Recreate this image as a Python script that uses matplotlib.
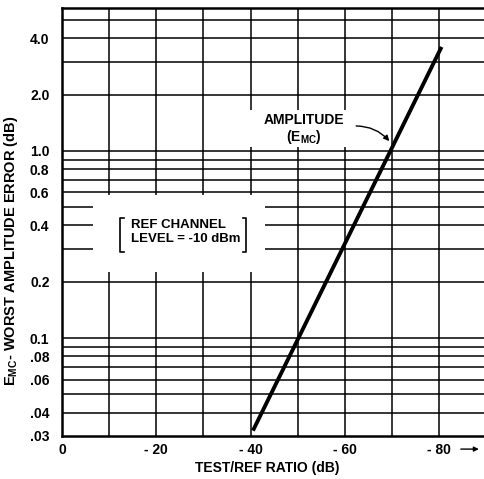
import matplotlib.pyplot as plt

# curve: amplitude error vs test/ref ratio (straight on log scale)
ratio_db = [-40.5, -80.5]
error_db = [0.032, 3.6]

x_ticks = [0, -20, -40, -60, -80]
x_labels = ['0', '- 20', '- 40', '- 60', '- 80']
y_ticks = [0.03, 0.04, 0.06, 0.08, 0.1, 0.2, 0.4, 0.6, 0.8, 1.0, 2.0, 4.0]
y_labels = ['.03', '.04', '.06', '.08', '0.1', '0.2', '0.4', '0.6', '0.8', '1.0', '2.0', '4.0']

# horizontal grid lines running the full width
h_full = [0.04, 0.05, 0.06, 0.07, 0.08, 0.09, 0.1, 0.2,
          0.6, 0.7, 0.8, 0.9, 1.0, 2.0, 3.0, 4.0, 5.0]
# horizontal grid lines broken around the note box
h_split = [0.3, 0.4, 0.5]
# vertical grid lines: (x, [(ylow, yhigh), ...])
v_lines = [
    (-10, [(0.03, 0.225), (0.58, 6)]),
    (-20, [(0.03, 0.225), (0.58, 6)]),
    (-30, [(0.03, 0.225), (0.58, 6)]),
    (-40, [(0.03, 0.225), (0.58, 1.05), (1.65, 6)]),
    (-50, [(0.03, 1.05), (1.65, 6)]),
    (-60, [(0.03, 1.05), (1.65, 6)]),
    (-70, [(0.03, 6)]),
    (-80, [(0.03, 6)]),
]

plt.rcParams['font.family'] = ['Liberation Sans', 'DejaVu Sans']
plt.rcParams['font.weight'] = 'bold'

fig = plt.figure(figsize=(4.84, 4.79), dpi=100)
ax = fig.add_axes([0.128, 0.09, 0.872, 0.893])

xmin, xmax = 0, -89.5
ymin, ymax = 0.03, 5.8

gw = 1.1
ax.hlines(h_full, xmin, xmax, colors='black', lw=gw)
ax.hlines(h_split, xmin, -6.5, colors='black', lw=gw)
ax.hlines(h_split, -43, xmax, colors='black', lw=gw)
for x, segs in v_lines:
    for lo, hi in segs:
        ax.vlines(x, lo, hi, colors='black', lw=gw)

ax.plot(ratio_db, error_db, color='black', lw=2.8, solid_capstyle='butt')

ax.set_yscale('log')
ax.set_xlim(xmin, xmax)
ax.set_ylim(ymin, ymax)
ax.set_xticks(x_ticks)
ax.set_xticklabels(x_labels)
ax.set_yticks(y_ticks)
ax.set_yticklabels(y_labels)
ax.minorticks_off()
ax.tick_params(axis='both', length=0, labelsize=10)
ax.tick_params(axis='x', pad=5)
ax.tick_params(axis='y', pad=9)

for s in ['left', 'bottom', 'top']:
    ax.spines[s].set_linewidth(1.8)
ax.spines['right'].set_visible(False)

ax.set_xlabel('TEST/REF RATIO (dB)', fontsize=10, fontweight='bold')
ax.xaxis.set_label_coords(0.487, -0.058)
ax.set_ylabel(r'$\mathregular{E_{MC}}$- WORST AMPLITUDE ERROR (dB)',
              fontsize=10.5, fontweight='bold')
ax.yaxis.set_label_coords(-0.1, 0.432)

# arrow after -80 label
ax.annotate('', xy=(-89, 0.0255), xytext=(-84, 0.0255), xycoords='data',
            annotation_clip=False,
            arrowprops=dict(arrowstyle='-|>', color='black', lw=1, mutation_scale=7))

# note box
ax.text(-14.6, 0.37, 'REF CHANNEL\nLEVEL = -10 dBm', fontsize=9.5, fontweight='bold',
        ha='left', va='center', linespacing=1.25)
ax.plot([-13.2, -12.4, -12.4, -13.2], [0.44, 0.44, 0.287, 0.287], color='black', lw=1.2)
ax.plot([-38.3, -39.1, -39.1, -38.3], [0.44, 0.44, 0.287, 0.287], color='black', lw=1.2)

# curve label
ax.text(-51.3, 1.3, 'AMPLITUDE\n' + r'($\mathregular{E_{MC}}$)', fontsize=10,
        fontweight='bold', ha='center', va='center', linespacing=1.05)
ax.annotate('', xy=(-69.8, 1.1), xytext=(-61.8, 1.36),
            arrowprops=dict(arrowstyle='-|>', color='black', lw=1,
                            mutation_scale=8, connectionstyle='arc3,rad=-0.25'))

fig.savefig('out.png', dpi=100)
